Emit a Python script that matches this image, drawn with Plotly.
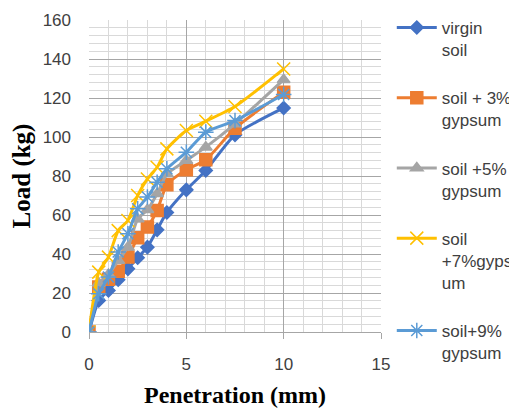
import plotly.graph_objects as go

penetration = [0, 0.5, 1, 1.5, 2, 2.5, 3, 3.5, 4, 5, 6, 7.5, 10]
virgin = [0, 16.2, 21.3, 26.8, 32.4, 38.1, 43.5, 52.4, 61.3, 72.9, 82.8, 101.1, 114.9]
gyp3 = [0, 23.1, 27.0, 31.2, 38.4, 48.3, 53.8, 62.3, 75.5, 83.2, 88.3, 104.5, 123.0]
gyp5 = [0, 25.0, 29.5, 36.7, 43.5, 58.0, 62.7, 70.9, 81.0, 88.0, 94.8, 106.7, 129.4]
gyp7 = [0, 30.7, 38.4, 52.0, 57.2, 70.0, 78.5, 84.5, 93.9, 103.3, 108.1, 115.6, 134.9]
gyp9 = [0, 19.6, 28.2, 41.0, 50.4, 63.2, 69.2, 76.8, 83.7, 92.2, 102.5, 108.4, 121.8]

names = ["virgin<br>soil", "soil + 3%<br>gypsum", "soil +5%<br>gypsum",
         "soil<br>+7%gyps<br>um", "soil+9%<br>gypsum"]
colors = ["#4472C4", "#ED7D31", "#A5A5A5", "#FFC000", "#5B9BD5"]
symbols = ["diamond", "square", "triangle-up", "x-thin-open", "asterisk-open"]
sizes = [10, 12, 11, 13, 13]
series = [virgin, gyp3, gyp5, gyp7, gyp9]

fig = go.Figure()
for i, (nm, ys) in enumerate(zip(names, series)):
    fig.add_trace(go.Scatter(
        x=penetration, y=ys, name=nm, mode="lines+markers",
        line=dict(color=colors[i], width=3, shape="spline", smoothing=0.6),
        marker=dict(symbol=symbols[i], size=sizes[i], color=colors[i],
                    line=dict(color=colors[i], width=1.5)),
        legendgroup=str(i),
    ))

# page body has an 8px margin; figure sized so the plot lands where the reference has it
fig.update_layout(
    width=509, height=400,
    margin=dict(l=81, r=136, t=12, b=76, autoexpand=False),
    plot_bgcolor="white", paper_bgcolor="white",
    showlegend=True,
    legend=dict(xref="container", yref="container",
                x=0.754, y=0.995, xanchor="left", yanchor="top",
                font=dict(family="Liberation Sans", size=17, color="#404040"),
                valign="top", tracegroupgap=23, itemwidth=40,
                maxheight=1.0,
                bgcolor="rgba(0,0,0,0)"),
    xaxis=dict(range=[0, 15], dtick=5, tick0=0, automargin=False,
               showgrid=True, gridcolor="#a6a6a6", gridwidth=1,
               minor=dict(dtick=1, showgrid=True, gridcolor="#d9d9d9", gridwidth=1),
               showline=True, linecolor="#a6a6a6", linewidth=1,
               ticks="outside", ticklen=6, tickcolor="#a6a6a6",
               ticklabelstandoff=11,
               zeroline=False,
               tickfont=dict(family="Liberation Sans", size=17, color="#404040"),
               title=dict(text="<b>Penetration (mm)</b>", standoff=12,
                          font=dict(family="Liberation Serif", size=24, color="black"))),
    yaxis=dict(range=[0, 160], dtick=20, tick0=0, automargin=False,
               showgrid=True, gridcolor="#a6a6a6", gridwidth=1,
               minor=dict(dtick=4, showgrid=True, gridcolor="#d9d9d9", gridwidth=1),
               showline=False, zeroline=False, ticks="",
               ticklabelstandoff=17,
               tickfont=dict(family="Liberation Sans", size=17, color="#404040"),
               title=dict(text="<b>Load (kg)</b>", standoff=8,
                          font=dict(family="Liberation Serif", size=25, color="black"))),
)

fig.write_html("out.html")
